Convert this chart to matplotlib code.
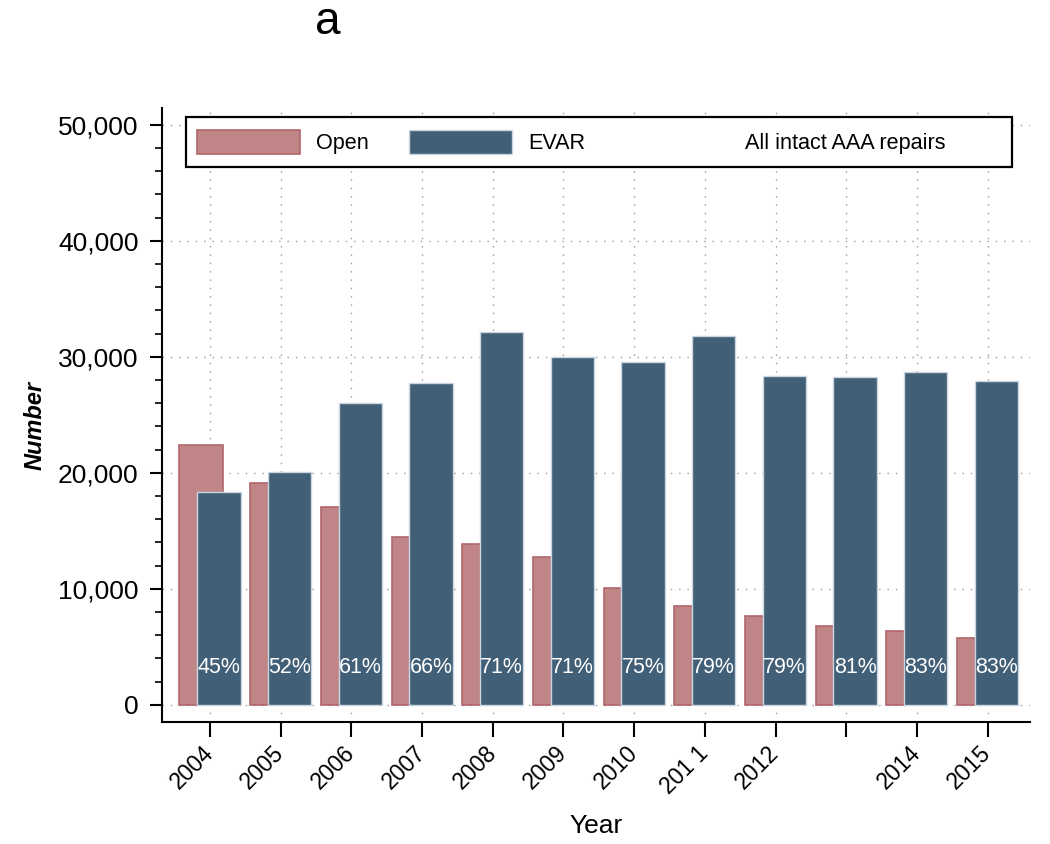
import matplotlib
matplotlib.use("Agg")
import matplotlib.pyplot as plt
from matplotlib.patches import Patch, Rectangle
from matplotlib.ticker import FuncFormatter, MultipleLocator
import numpy as np

plt.rcParams['font.family'] = ['Liberation Sans', 'DejaVu Sans']

years = ['2004', '2005', '2006', '2007', '2008', '2009', '2010', '2011', '2012', '2013', '2014', '2015']
tick_labels = ['2004', '2005', '2006', '2007', '2008', '2009', '2010', '201 1', '2012', '', '2014', '2015']
open_repairs = [22390, 19110, 17070, 14460, 13880, 12700, 10030, 8540, 7670, 6780, 6330, 5780]
evar_repairs = [18340, 20030, 25980, 27710, 32100, 29950, 29540, 31810, 28340, 28250, 28710, 27900]
evar_pct = ['45%', '52%', '61%', '66%', '71%', '71%', '75%', '79%', '79%', '81%', '83%', '83%']

open_face = '#bf8587'
open_edge = '#b0666c'
evar_face = '#425f78'
evar_edge = '#c9d6e2'

fig = plt.figure(figsize=(10.5, 8.44), dpi=100)
ax = fig.add_axes([162 / 1050, 1 - 722 / 844, (1030 - 162) / 1050, (722 - 108) / 844])

x = np.arange(len(years))
w = 0.615
off = 0.125
ax.bar(x - off, open_repairs, width=w, color=open_face, edgecolor=open_edge, linewidth=1.2, zorder=2)
ax.bar(x + off, evar_repairs, width=w, color=evar_face, edgecolor=evar_edge, linewidth=1.0, zorder=3)

for xi, p in zip(x, evar_pct):
    ax.text(xi + off, 3250, p, color='white', ha='center', va='center', fontsize=15.5, zorder=4)

ax.set_xlim(-0.68, 11.6)
ax.set_ylim(-1490, 51440)
ax.set_xticks(x)
ax.set_xticklabels(tick_labels, rotation=45, ha='right', va='center', rotation_mode='anchor', fontsize=16.5)
ax.yaxis.set_major_locator(MultipleLocator(10000))
ax.yaxis.set_minor_locator(MultipleLocator(2000))
ax.yaxis.set_major_formatter(FuncFormatter(lambda v, pos: f'{int(v):,}'))
ax.tick_params(axis='y', which='major', length=9, width=1.5, labelsize=19, pad=8)
ax.tick_params(axis='y', which='minor', length=5, width=1.2)
ax.tick_params(axis='x', which='major', length=11, width=1.5, pad=9)

for s in ['top', 'right']:
    ax.spines[s].set_visible(False)
for s in ['left', 'bottom']:
    ax.spines[s].set_linewidth(1.5)

ax.grid(True, which='major', axis='both', color='#9a9a9a', linestyle=(0, (1, 5)), linewidth=1.0, zorder=0)
ax.set_axisbelow(True)

ax.set_xlabel('Year', fontsize=19, labelpad=11)

fig.text(35 / 1050, 1 - 425 / 844, 'Number', rotation=90, fontsize=17, fontweight='bold',
         fontstyle='italic', ha='center', va='center')

fig.text(328 / 1050, 1 - 22 / 844, 'a', fontsize=33, ha='center', va='center')

# legend frame
ax_w, ax_h = 868.0, 614.0
frame = Rectangle(((186 - 162) / ax_w, (722 - 167) / ax_h), (1012 - 186) / ax_w, 50 / ax_h,
                  transform=ax.transAxes, facecolor='white', edgecolor='black', linewidth=1.6,
                  zorder=5, clip_on=False)
ax.add_patch(frame)

handles = [Patch(facecolor=open_face, edgecolor=open_edge, linewidth=1.2),
           Patch(facecolor=evar_face, edgecolor=evar_edge, linewidth=1.0),
           Patch(facecolor='none', edgecolor='none')]
labels = ['Open', 'EVAR', 'All intact AAA repairs']
leg = ax.legend(handles, labels, ncol=3, loc='center left',
                bbox_to_anchor=((197 - 162) / ax_w, (722 - 142) / ax_h),
                fontsize=15.6, handlelength=4.75, handleheight=1.3, handletextpad=0.75,
                columnspacing=1.85, frameon=False, borderaxespad=0, borderpad=0)
leg.set_zorder(6)

fig.savefig('out.png', dpi=100)
